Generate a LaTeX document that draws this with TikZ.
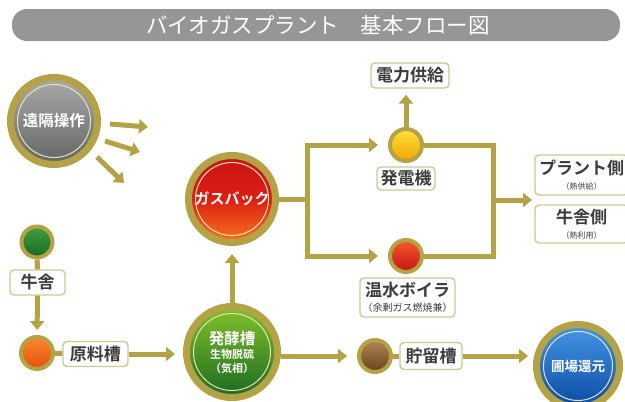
\documentclass[tikz,border=0pt]{standalone}
\usepackage{fontspec}
\setmainfont{Noto Sans CJK JP}[BoldFont={Noto Sans CJK JP Bold}]
\usetikzlibrary{arrows.meta}
\definecolor{olv}{RGB}{180,163,70}
\definecolor{olvlight}{RGB}{232,226,180}
\definecolor{boxline}{RGB}{205,199,150}
\definecolor{boxtext}{RGB}{60,60,60}
\definecolor{titlegray}{RGB}{150,150,150}
\tikzset{
  bigc/.style={circle, draw=olv, line width=7pt, minimum size=#1, inner sep=0pt,
    text=white, font=\bfseries, align=center},
  smallc/.style={circle, draw=olv, line width=4pt, minimum size=#1, inner sep=0pt},
  lbl/.style={draw=boxline, line width=1.4pt, rounded corners=4pt, fill=white,
    text=boxtext, font=\fontsize{17}{19}\selectfont\bfseries, inner sep=2pt,
    align=center, minimum height=#1},
  flow/.style={draw=olv, line width=5pt},
  flowarrow/.style={draw=olv, line width=5pt, -{Triangle[length=9pt,width=14pt]}},
  shine/.style={draw=olvlight, line width=1pt},
}
\begin{document}
\begin{tikzpicture}[x=1pt,y=-1pt]
\useasboundingbox (0,0) rectangle (625,402);
% title
\node[fill=titlegray, rounded corners=15pt, minimum width=608pt, minimum height=32pt,
  inner sep=0pt] (title) at (316,25) {};
\node[text=white, font=\fontsize{21.5}{23}\selectfont] (titletext) at (318,25)
  {バイオガスプラント\hspace{1em}基本フロー図};

% big circles
\node[bigc=87pt, top color={rgb,255:red,170;green,170;blue,170}, bottom color={rgb,255:red,100;green,100;blue,100},
  font=\fontsize{15.5}{17}\selectfont\bfseries] (remote) at (54,121) {遠隔操作};
\node[bigc=87pt, top color={rgb,255:red,200;green,20;blue,20}, bottom color={rgb,255:red,245;green,120;blue,30},
  middle color={rgb,255:red,220;green,30;blue,20},
  font=\fontsize{15}{17}\selectfont\bfseries] (gas) at (232,199) {ガスバック};
\node[bigc=91pt, top color={rgb,255:red,130;green,195;blue,40}, bottom color={rgb,255:red,25;green,105;blue,35}] (ferment) at (232,352)
  {{\fontsize{15.5}{17}\selectfont 発酵槽}\\[2pt]{\fontsize{11}{12}\selectfont 生物脱硫}\\[2pt]{\fontsize{11}{12}\selectfont （気相）}};
\node[bigc=83pt, top color={rgb,255:red,70;green,150;blue,230}, bottom color={rgb,255:red,10;green,75;blue,165},
  font=\fontsize{13.5}{15}\selectfont\bfseries] (field) at (578,366) {圃場還元};
\foreach \n/\r in {remote/36.5, gas/36.5, ferment/38.5, field/34.5}
  \draw[shine] (\n.center) circle (\r);

% small circles
\node[smallc=32pt, top color={rgb,255:red,255;green,225;blue,60}, bottom color={rgb,255:red,240;green,165;blue,0}] (gen) at (406,145) {};
\node[smallc=32pt, top color={rgb,255:red,245;green,90;blue,45}, bottom color={rgb,255:red,195;green,20;blue,20}] (boiler) at (406,256) {};
\node[smallc=31pt, top color={rgb,255:red,70;green,160;blue,60}, bottom color={rgb,255:red,20;green,105;blue,40}] (cow) at (37,242) {};
\node[smallc=32pt, top color={rgb,255:red,250;green,135;blue,50}, bottom color={rgb,255:red,230;green,80;blue,10}] (raw) at (37,353) {};
\node[smallc=32pt, top color={rgb,255:red,175;green,135;blue,85}, bottom color={rgb,255:red,105;green,65;blue,30}] (store) at (375,356) {};

% labels
\node[lbl=25pt, minimum width=78pt] (power) at (410,75.5) {電力供給};
\node[lbl=23pt, minimum width=58pt] (genlbl) at (406,178.5) {発電機};
\node[lbl=39pt, minimum width=95pt] (boilerlbl) at (407.5,297.5)
  {温水ボイラ\\[-4pt]{\fontsize{10}{11}\selectfont\mdseries （余剰ガス燃焼兼）}};
\node[lbl=40pt, minimum width=93pt] (plant) at (581.5,175)
  {プラント側\\[-4pt]{\fontsize{8}{9}\selectfont\mdseries （熱供給）}};
\node[lbl=38pt, minimum width=93pt] (cowside) at (581.5,224)
  {牛舎側\\[-4pt]{\fontsize{8}{9}\selectfont\mdseries （熱利用）}};
\node[lbl=25pt, minimum width=55pt] (cowlbl) at (37.5,282.5) {牛舎};
\node[lbl=25pt, minimum width=65pt] (rawlbl) at (95.5,354) {原料槽};
\node[lbl=27pt, minimum width=62pt] (storelbl) at (431,356) {貯留槽};

% coordinates
\coordinate (split) at (307,199);
\coordinate (join) at (493,200);
\coordinate (outtip) at (532,200);
\coordinate (r1s) at (110,124);
\coordinate (r1e) at (148,127);
\coordinate (r2s) at (105,141);
\coordinate (r2e) at (140,152);
\coordinate (r3s) at (97,157);
\coordinate (r3e) at (124,183);

% connectors
\draw[flowarrow] (r1s) -- (r1e);
\draw[flowarrow] (r2s) -- (r2e);
\draw[flowarrow] (r3s) -- (r3e);

\draw[flow] (gas) -- (split);
\draw[flowarrow, shorten >=10pt] (split) |- (gen);
\draw[flowarrow, shorten >=10pt] (split) |- (boiler);
\draw[flow, line join=miter] (gen) -| (join);
\draw[flow, line join=miter] (boiler) -| (join);
\draw[flowarrow] (join) -- (outtip);
\draw[flowarrow, shorten >=6pt] (gen) -- (gen |- power.south);

\draw[flow] (cow) -- (cowlbl);
\draw[flowarrow, shorten >=5pt] (cowlbl) -- (raw);
\draw[flow] (raw) -- (rawlbl);
\draw[flowarrow, shorten >=8pt] (rawlbl.east) -- (rawlbl.east -| ferment.west);
\draw[flowarrow, shorten >=8pt] (ferment) -- (gas);
\draw[flowarrow, shorten >=10pt] (ferment.east |- store) -- (store);
\draw[flow] (store) -- (storelbl);
\draw[flowarrow, shorten >=5pt] (storelbl.east) -- (storelbl.east -| field.west);
\end{tikzpicture}
\end{document}
